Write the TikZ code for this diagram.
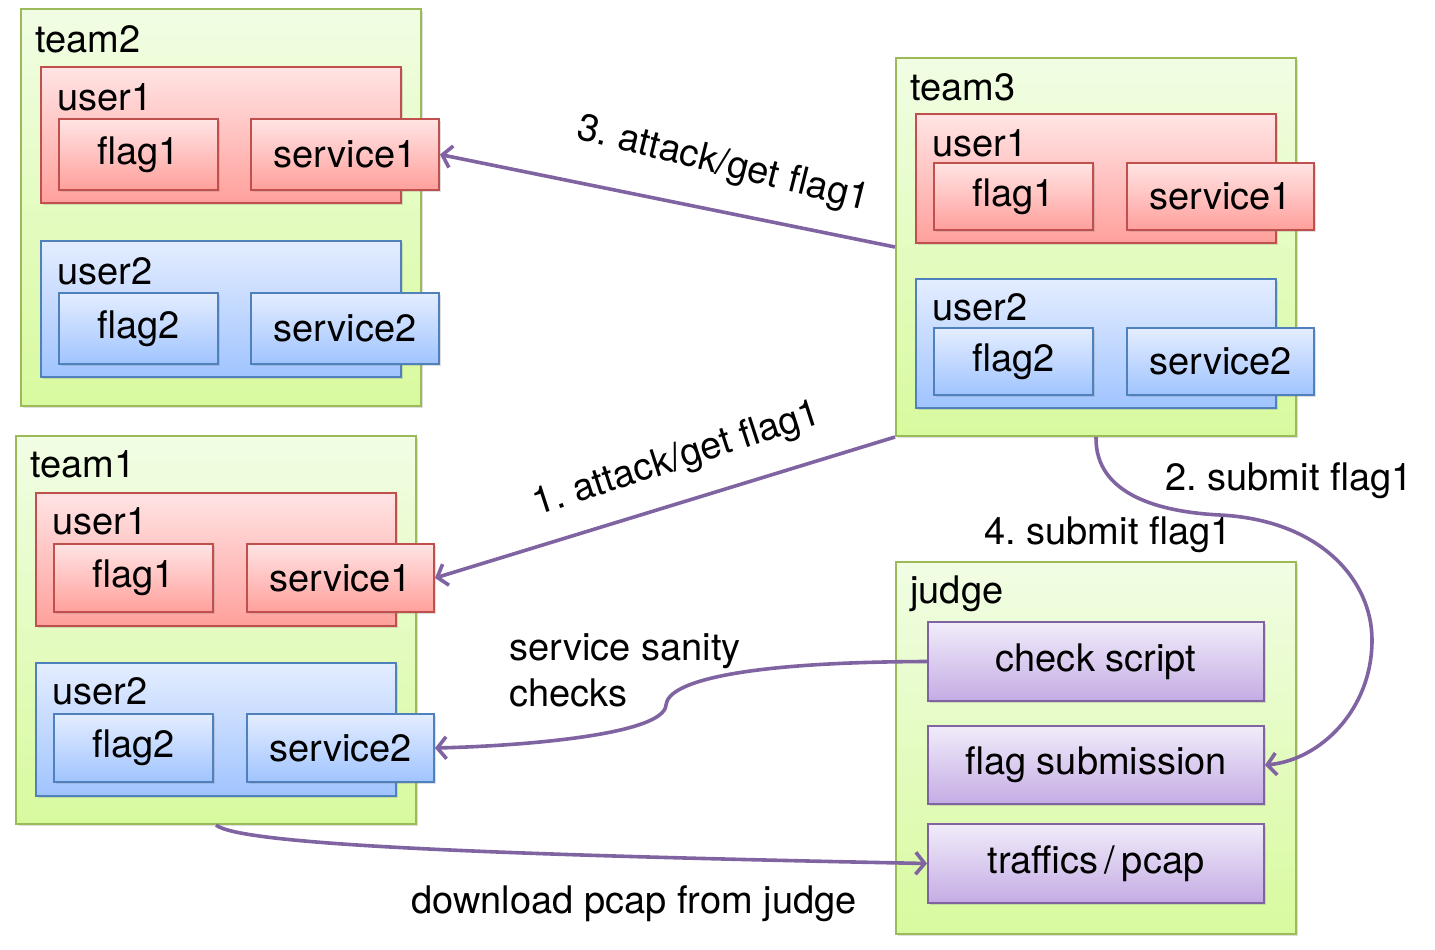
\documentclass[tikz,border=0pt]{standalone}
\usepackage{fontspec}
\setmainfont{TeX Gyre Heros}
\usetikzlibrary{arrows.meta,shadows}
\frenchspacing

\definecolor{teamline}{RGB}{155,187,89}
\definecolor{userline}{RGB}{192,80,77}
\definecolor{useline}{RGB}{79,129,189}
\definecolor{judgeline}{RGB}{128,100,162}

\tikzset{
  box/.style={draw, line width=1pt, inner sep=0pt, anchor=north west,
    drop shadow={shadow xshift=1pt, shadow yshift=-1.2pt, opacity=0.25}},
  teambox/.style={box, draw=teamline, top color={rgb,255:red,241;green,253;blue,228},
    bottom color={rgb,255:red,216;green,250;blue,158}, minimum width=200pt},
  redbox/.style={box, draw=userline, top color={rgb,255:red,255;green,228;blue,228},
    bottom color={rgb,255:red,255;green,160;blue,156}},
  bluebox/.style={box, draw=useline, top color={rgb,255:red,228;green,237;blue,255},
    bottom color={rgb,255:red,160;green,196;blue,255}},
  purplebox/.style={box, draw=judgeline, top color={rgb,255:red,241;green,236;blue,250},
    bottom color={rgb,255:red,196;green,172;blue,228}, minimum width=168pt},
  boxlabel/.style={anchor=base west, inner sep=0pt},
  flow/.style={draw=judgeline, line width=1.8pt,
    -{Straight Barb[length=4.5pt,width=11pt]}},
}

\begin{document}
\begin{tikzpicture}[x=0.5pt, y=-0.5pt, font=\fontsize{19}{23}\selectfont]
		\useasboundingbox (0,0) rectangle (1435,949);
		% team2
		\node[teambox, minimum height=198.5pt] (team2) at (20,8) {};
		\node[boxlabel] (team2-l) at (35,52) {team2};
		\node[redbox, minimum width=180pt, minimum height=68pt] (t2u1) at (40,66) {};
		\node[boxlabel] (t2u1-l) at (57,110) {user1};
		\node[redbox, minimum width=79.5pt, minimum height=35.5pt] (t2f1) at (58,118) {flag1};
		\node[redbox, minimum width=94pt, minimum height=35.5pt] (t2s1) at (250,118) {service1};
		\node[bluebox, minimum width=180pt, minimum height=68pt] (t2u2) at (40,240) {};
		\node[boxlabel] (t2u2-l) at (57,284) {user2};
		\node[bluebox, minimum width=79.5pt, minimum height=35.5pt] (t2f2) at (58,292) {flag2};
		\node[bluebox, minimum width=94pt, minimum height=35.5pt] (t2s2) at (250,292) {service2};
		% team1
		\node[teambox, minimum height=194pt] (team1) at (15,435) {};
		\node[boxlabel] (team1-l) at (30,477) {team1};
		\node[redbox, minimum width=180pt, minimum height=66.5pt] (t1u1) at (35,492) {};
		\node[boxlabel] (t1u1-l) at (52,534) {user1};
		\node[redbox, minimum width=79.5pt, minimum height=34pt] (t1f1) at (53,543) {flag1};
		\node[redbox, minimum width=93.5pt, minimum height=34pt] (t1s1) at (246,543) {service1};
		\node[bluebox, minimum width=180pt, minimum height=66.5pt] (t1u2) at (35,662) {};
		\node[boxlabel] (t1u2-l) at (52,704) {user2};
		\node[bluebox, minimum width=79.5pt, minimum height=34pt] (t1f2) at (53,713) {flag2};
		\node[bluebox, minimum width=93.5pt, minimum height=34pt] (t1s2) at (246,713) {service2};
		% team3
		\node[teambox, minimum height=189pt] (team3) at (895,57) {};
		\node[boxlabel] (team3-l) at (910,100) {team3};
		\node[redbox, minimum width=180pt, minimum height=64.5pt] (t3u1) at (915,113) {};
		\node[boxlabel] (t3u1-l) at (932,156) {user1};
		\node[redbox, minimum width=79.5pt, minimum height=33.5pt] (t3f1) at (933,162) {flag1};
		\node[redbox, minimum width=93.5pt, minimum height=33.5pt] (t3s1) at (1126,162) {service1};
		\node[bluebox, minimum width=180pt, minimum height=64.5pt] (t3u2) at (915,278) {};
		\node[boxlabel] (t3u2-l) at (932,320) {user2};
		\node[bluebox, minimum width=79.5pt, minimum height=33.5pt] (t3f2) at (933,327) {flag2};
		\node[bluebox, minimum width=93.5pt, minimum height=33.5pt] (t3s2) at (1126,327) {service2};
		% judge
		\node[teambox, minimum height=186pt] (judge) at (895,561) {};
		\node[boxlabel] (judge-l) at (910,603) {judge};
		\node[purplebox, minimum height=39.5pt] (check) at (927,621) {check script};
		\node[purplebox, minimum height=39pt] (submit) at (927,725) {flag submission};
		\node[purplebox, minimum height=39.5pt] (pcap) at (927,823) {traffics\,/\,pcap};
		% arrows
		\draw[flow] (team3.west) -- (t2s1.east);
		\draw[flow] (team3.south west) -- (t1s1.east);
		\draw[flow] (team3.south) .. controls (1095,495) and (1160,512) .. (1220,515)
		  .. controls (1320,520) and (1372,580) .. (1372,640)
		  .. controls (1372,710) and (1320,760) .. (submit.east);
		\draw[flow] (check.west) .. controls (750,662) and (668,680) .. (666,705)
		  .. controls (664,735) and (520,746) .. (t1s2.east);
		\draw[flow] (team1.south) .. controls (240,845) and (500,855) .. (pcap.west);
		% texts
		\node[rotate=-14] (lab3) at (723,165) {3. attack/get flag1};
		\node[rotate=18] (lab1) at (677,460) {1. attack/get flag1};
		\node (lab2) at (1289,481) {2. submit flag1};
		\node (lab4) at (1108,535) {4. submit flag1};
		\node[align=left, anchor=north west, inner sep=0pt] (labcheck) at (509,633) {service sanity\\checks};
		\node (labdl) at (634,904) {download pcap from judge};
\end{tikzpicture}
\end{document}
